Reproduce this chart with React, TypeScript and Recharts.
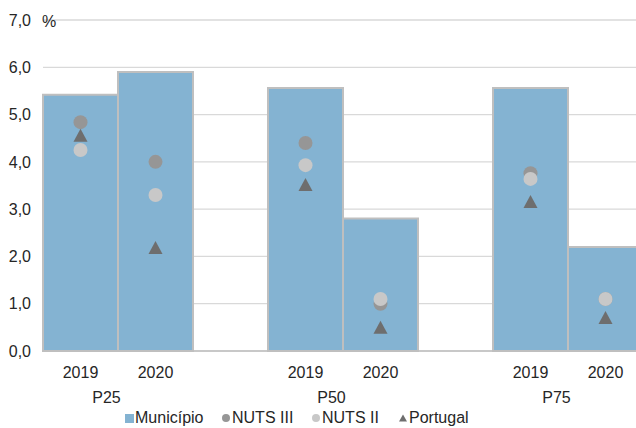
import { ComposedChart, Bar, Line, XAxis, YAxis, CartesianGrid, Legend } from 'recharts';

// slots: P25 (2019, 2020), gap, P50 (2019, 2020), gap, P75 (2019, 2020)
const years = ['2019', '2020', '', '2019', '2020', '', '2019', '2020'];
const groups = ['P25', '', '', 'P50', '', '', 'P75', ''];
const municipio = [5.42, 5.9, null, 5.56, 2.8, null, 5.56, 2.2];
const nutsIII = [4.84, 4.0, null, 4.4, 1.0, null, 3.76, 1.1];
const nutsII = [4.25, 3.3, null, 3.93, 1.1, null, 3.64, 1.1];
const portugal = [4.55, 2.18, null, 3.51, 0.49, null, 3.15, 0.7];
const yTicks = [0, 1, 2, 3, 4, 5, 6, 7];

const data = years.map((y, i) => ({
  slot: i,
  year: y,
  group: groups[i],
  municipio: municipio[i],
  nutsIII: nutsIII[i],
  nutsII: nutsII[i],
  portugal: portugal[i],
}));

const FONT = '"Liberation Sans", Arial, sans-serif';
const TXT = '#262626';

const circleDot = (fill: string) => (props: any) => {
  const { cx, cy, index, value } = props;
  if (value == null || cy == null) return <g key={`c-${fill}-${index}`} />;
  return <circle key={`c-${fill}-${index}`} cx={cx} cy={cy} r={7} fill={fill} />;
};

const triDot = (props: any) => {
  const { cx, cy, index, value } = props;
  if (value == null || cy == null) return <g key={`t-${index}`} />;
  return (
    <path
      key={`t-${index}`}
      d={`M${cx},${cy - 7} L${cx + 7},${cy + 6} L${cx - 7},${cy + 6} Z`}
      fill="#6E6E6E"
    />
  );
};

const XTick = (props: any) => {
  const { x, y, payload } = props;
  const d = data[payload.value];
  return (
    <g>
      <text x={x} y={y + 13} textAnchor="middle" dominantBaseline="central" fontSize={16} fill={TXT} fontFamily={FONT}>
        {d.year}
      </text>
      {d.group && (
        <text x={x + 26} y={y + 38} textAnchor="middle" dominantBaseline="central" fontSize={16} fill={TXT} fontFamily={FONT}>
          {d.group}
        </text>
      )}
    </g>
  );
};

const legendItems = [
  { name: 'Município', kind: 'square', color: '#84B3D2', left: 124 },
  { name: 'NUTS III', kind: 'circle', color: '#969696', left: 221 },
  { name: 'NUTS II', kind: 'circle', color: '#C8C8C8', left: 311 },
  { name: 'Portugal', kind: 'tri', color: '#6E6E6E', left: 398 },
];

const renderLegend = () => (
  <div style={{ position: 'relative', width: 636, height: 20, fontFamily: FONT, fontSize: 16, color: TXT }}>
    {legendItems.map((it) => (
      <div key={it.name} style={{ position: 'absolute', left: it.left, top: 0, height: 20, display: 'flex', alignItems: 'center' }}>
        <svg width={10} height={10} style={{ marginRight: 1 }}>
          {it.kind === 'square' && <rect x={1} y={1} width={9} height={9} fill={it.color} />}
          {it.kind === 'circle' && <circle cx={5} cy={5} r={4} fill={it.color} />}
          {it.kind === 'tri' && <path d="M5,1.5 L9,8.5 L1,8.5 Z" fill={it.color} />}
        </svg>
        <span>{it.name}</span>
      </div>
    ))}
  </div>
);

export default function App() {
  return (
    <div style={{ position: 'absolute', left: 0, top: 0, width: 636, height: 428, overflow: 'hidden', background: '#fff' }}>
      <ComposedChart
        width={660}
        height={428}
        data={data}
        barCategoryGap={0}
        margin={{ top: 20, right: 17, left: 0, bottom: 0 }}
      >
        <CartesianGrid vertical={false} stroke="#D9D9D9" strokeWidth={1.3} />
        <XAxis
          dataKey="slot"
          type="category"
          height={57}
          tickLine={false}
          axisLine={{ stroke: '#BFBFBF', strokeWidth: 1.5 }}
          tick={<XTick />}
          interval={0}
        />
        <YAxis
          width={43}
          domain={[0, 7]}
          ticks={yTicks}
          axisLine={false}
          tickLine={false}
          tickMargin={6}
          tick={{ fontSize: 16, fill: TXT, fontFamily: FONT }}
          tickFormatter={(v: number) => v.toFixed(1).replace('.', ',')}
          label={{
            content: (p: any) => (
              <text
                x={p.viewBox.x + p.viewBox.width - 1}
                y={p.viewBox.y + 1}
                dominantBaseline="central"
                fontSize={16}
                fill={TXT}
                fontFamily={FONT}
              >
                %
              </text>
            ),
          }}
        />
        <Legend verticalAlign="bottom" content={renderLegend} wrapperStyle={{ left: 0, bottom: 0, width: 636, height: 20 }} />
        <Bar dataKey="municipio" name="Município" fill="#84B3D2" stroke="#BFBFBF" strokeWidth={2} isAnimationActive={false} />
        <Line dataKey="nutsIII" name="NUTS III" stroke="none" dot={circleDot('#969696')} activeDot={false} isAnimationActive={false} />
        <Line dataKey="nutsII" name="NUTS II" stroke="none" dot={circleDot('#C8C8C8')} activeDot={false} isAnimationActive={false} />
        <Line dataKey="portugal" name="Portugal" stroke="none" dot={triDot} activeDot={false} isAnimationActive={false} />
      </ComposedChart>
    </div>
  );
}
